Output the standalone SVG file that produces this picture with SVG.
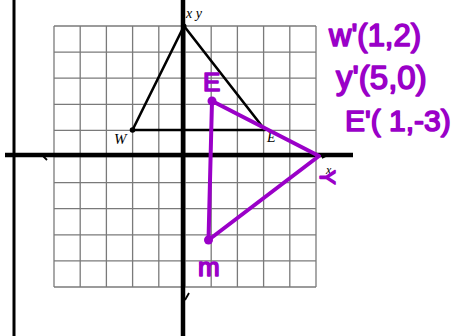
<svg xmlns="http://www.w3.org/2000/svg" width="454" height="336" viewBox="0 0 454 336">
<style>
.grid line{stroke:#7a7a7a;stroke-width:1.3}
.axis{stroke:#000;stroke-width:4.5;stroke-linecap:butt}
.blk{fill:none;stroke:#000;stroke-width:2.6;stroke-linejoin:round}
.pur{fill:none;stroke:#9a00c8;stroke-width:4;stroke-linejoin:round;stroke-linecap:round}
.lab{font-family:"Liberation Serif",serif;font-style:italic;fill:#000}
.hand{font-family:"Liberation Sans",Arial,sans-serif;fill:#9a00c8;stroke:#9a00c8;stroke-width:1.6;stroke-linejoin:round}
</style>
<rect width="454" height="336" fill="#fff"/>
<g class="grid" id="grid">
<line x1="54" y1="26" x2="54" y2="287"/><line x1="80.2" y1="26" x2="80.2" y2="287"/><line x1="106.4" y1="26" x2="106.4" y2="287"/><line x1="132.6" y1="26" x2="132.6" y2="287"/><line x1="158.8" y1="26" x2="158.8" y2="287"/><line x1="185" y1="26" x2="185" y2="287"/><line x1="211.2" y1="26" x2="211.2" y2="287"/><line x1="237.4" y1="26" x2="237.4" y2="287"/><line x1="263.6" y1="26" x2="263.6" y2="287"/><line x1="289.8" y1="26" x2="289.8" y2="287"/><line x1="316" y1="26" x2="316" y2="287"/>
<line x1="54" y1="26" x2="316" y2="26"/><line x1="54" y1="52.1" x2="316" y2="52.1"/><line x1="54" y1="78.2" x2="316" y2="78.2"/><line x1="54" y1="104.3" x2="316" y2="104.3"/><line x1="54" y1="130.4" x2="316" y2="130.4"/><line x1="54" y1="156.5" x2="316" y2="156.5"/><line x1="54" y1="182.6" x2="316" y2="182.6"/><line x1="54" y1="208.7" x2="316" y2="208.7"/><line x1="54" y1="234.8" x2="316" y2="234.8"/><line x1="54" y1="260.9" x2="316" y2="260.9"/><line x1="54" y1="287" x2="316" y2="287"/>
</g>
<g id="axes">
<line x1="14" y1="0" x2="14" y2="336" stroke="#000" stroke-width="3"/>
<line class="axis" x1="5" y1="155" x2="353" y2="155"/>
<line class="axis" x1="183" y1="0" x2="183" y2="336"/>
<path d="M42 155 L47 160" stroke="#000" stroke-width="1.8" fill="none"/>
<path d="M185 300 L189 293" stroke="#000" stroke-width="1.8" fill="none"/>
<path d="M322 158 L328 155" stroke="#000" stroke-width="1.5" fill="none"/>
</g>
<g id="triangle-WEY">
<path class="blk" d="M184 26 L132.5 130 L265 130 Z"/>
<circle cx="132.5" cy="130" r="2.8" fill="#000"/>
<circle cx="184" cy="26" r="2.5" fill="#000"/>
</g>
<g id="labels">
<text class="lab" x="186" y="18" font-size="14">x y</text>
<text class="lab" x="114" y="144" font-size="15">W</text>
<text class="lab" x="267" y="142" font-size="14">E</text>
<text class="lab" x="326" y="174" font-size="12">x</text>
</g>
<g id="connectors">
<path class="pur" d="M212 101 L319 156 L208.5 240 Z"/>
<circle cx="212" cy="101" r="4.5" fill="#9a00c8"/>
<circle cx="208.5" cy="240" r="4.5" fill="#9a00c8"/>
</g>
<g id="purple-labels">
<text class="hand" x="203" y="91" font-size="26">E</text>
<text class="hand" x="198" y="276" font-size="26">m</text>
<text class="hand" font-size="22" transform="translate(318,178) rotate(90)" x="-8" y="-2">Y</text>
<text class="hand" x="329" y="46" font-size="31">w'(1,2)</text>
<text class="hand" x="336" y="89" font-size="33">y'(5,0)</text>
<text class="hand" x="345" y="131" font-size="30">E'( 1,-3)</text>
</g>
</svg>
